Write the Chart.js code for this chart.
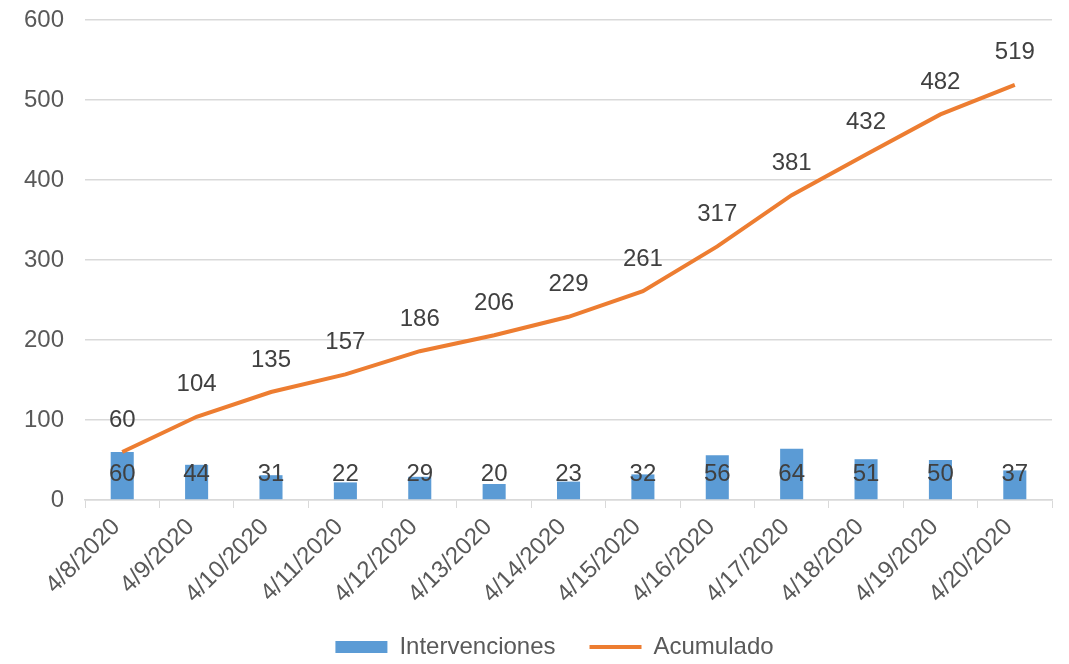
<!DOCTYPE html>
<html lang="en">
<head>
    <meta charset="UTF-8">
    <title>Intervenciones</title>
    <script src="https://cdn.jsdelivr.net/npm/chart.js"></script>
    <style>
        body { margin: 0; background: #fff; }
        .chart-container { width: 1069px; height: 664px; position: relative; }
    </style>
</head>
<body>
    <div class="chart-container">
        <canvas id="mainChart"></canvas>
    </div>

    <script>
        const dates = ['4/8/2020', '4/9/2020', '4/10/2020', '4/11/2020', '4/12/2020', '4/13/2020', '4/14/2020',
                       '4/15/2020', '4/16/2020', '4/17/2020', '4/18/2020', '4/19/2020', '4/20/2020'];
        const intervenciones = [60, 44, 31, 22, 29, 20, 23, 32, 56, 64, 51, 50, 37];
        const acumulado = [60, 104, 135, 157, 186, 206, 229, 261, 317, 381, 432, 482, 519];
        const yTicks = [0, 100, 200, 300, 400, 500, 600];

        const fontFamily = '"Liberation Sans", Arial, sans-serif';
        const fontSize = 24;

        // value labels: bars at the inside base, line above each point
        const valueLabels = {
            id: 'valueLabels',
            afterLayout(chart) {
                // nudge the legend a little to the right, like the original
                chart.legend.left += 27;
                chart.legend.right += 27;
            },
            afterDatasetsDraw(chart) {
                const ctx = chart.ctx;
                ctx.save();
                ctx.font = fontSize + 'px ' + fontFamily;
                ctx.fillStyle = '#404040';
                ctx.textAlign = 'center';
                ctx.textBaseline = 'middle';
                const base = chart.scales.y.getPixelForValue(0);
                chart.getDatasetMeta(0).data.forEach((bar, i) => {
                    ctx.fillText(intervenciones[i], bar.x, base - 26);
                });
                chart.getDatasetMeta(1).data.forEach((pt, i) => {
                    ctx.fillText(acumulado[i], pt.x, pt.y - 32);
                });
                ctx.restore();
            }
        };

        const ctx = document.getElementById('mainChart').getContext('2d');
        new Chart(ctx, {
            type: 'bar',
            data: {
                labels: dates,
                datasets: [{
                    label: 'Intervenciones',
                    data: intervenciones,
                    backgroundColor: '#5B9BD5',
                    borderWidth: 0,
                    categoryPercentage: 1,
                    barPercentage: 0.31,
                    pointStyle: 'rect',
                    order: 1
                }, {
                    type: 'line',
                    label: 'Acumulado',
                    data: acumulado,
                    borderColor: '#ED7D31',
                    backgroundColor: '#ED7D31',
                    borderWidth: 4,
                    pointRadius: 0,
                    pointStyle: 'line',
                    tension: 0,
                    order: 0
                }]
            },
            options: {
                responsive: true,
                maintainAspectRatio: false,
                animation: false,
                layout: {
                    padding: { top: 0, right: 17, left: 3, bottom: -5 }
                },
                scales: {
                    x: {
                        offset: true,
                        afterFit(scale) {
                            scale.height = 101;
                            scale.paddingLeft = 0;
                            scale.paddingRight = 0;
                            // let the rotated labels run past the axis box
                            scale._computeLabelArea = () => undefined;
                        },
                        grid: {
                            drawOnChartArea: false,
                            drawTicks: true,
                            tickLength: 8,
                            color: '#d9d9d9',
                            offset: true
                        },
                        border: { color: '#d9d9d9', width: 1.5 },
                        ticks: {
                            color: '#595959',
                            font: { family: fontFamily, size: fontSize },
                            minRotation: 45,
                            maxRotation: 45,
                            padding: 5,
                            labelOffset: -6
                        }
                    },
                    y: {
                        min: 0,
                        max: 600,
                        afterBuildTicks(scale) {
                            scale.ticks = yTicks.map(v => ({ value: v }));
                        },
                        afterFit(scale) {
                            scale.paddingTop = 20;
                            scale.paddingBottom = 14;
                        },
                        grid: {
                            color: '#d9d9d9',
                            lineWidth: 1.5,
                            drawTicks: false
                        },
                        border: { display: false },
                        ticks: {
                            color: '#595959',
                            font: { family: fontFamily, size: fontSize },
                            padding: 21
                        }
                    }
                },
                plugins: {
                    legend: {
                        position: 'bottom',
                        labels: {
                            color: '#595959',
                            font: { family: fontFamily, size: fontSize },
                            usePointStyle: true,
                            pointStyleWidth: 52,
                            boxHeight: 12,
                            padding: 34,
                            sort: (a, b) => a.datasetIndex - b.datasetIndex
                        }
                    },
                    tooltip: { enabled: false }
                }
            },
            plugins: [valueLabels]
        });
    </script>
</body>
</html>
